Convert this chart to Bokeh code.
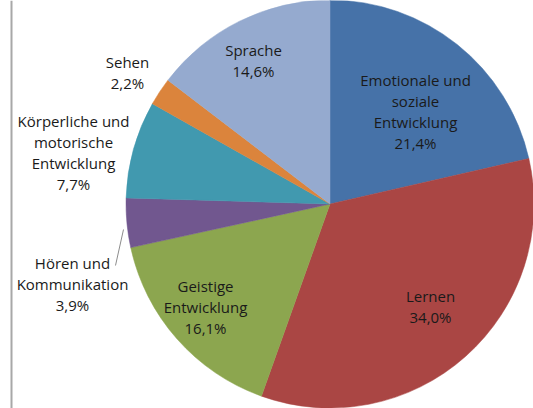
import numpy as np
from bokeh.plotting import figure
from bokeh.models import Range1d, ColumnDataSource, Span
from bokeh.core.properties import value
from bokeh.embed import file_html
from bokeh.resources import INLINE

# ---- data ----
categories = ["Emotionale und\nsoziale\nEntwicklung", "Lernen", "Geistige\nEntwicklung",
              "Hören und\nKommunikation", "Körperliche und\nmotorische\nEntwicklung",
              "Sehen", "Sprache"]
shares = [21.4, 34.0, 16.1, 3.9, 7.7, 2.2, 14.6]
pct_labels = ["21,4%", "34,0%", "16,1%", "3,9%", "7,7%", "2,2%", "14,6%"]
colors = ["#4672A8", "#AA4644", "#8CA64F", "#71578F", "#4199AF", "#DB843C", "#95AACF"]

# ---- layout (page pixel coordinates) ----
W, H = 533, 408
cx, cy_page, R = 329.5, 203.5, 204
label_x = [415, 430, 205, 72, 73, 127, 253]
label_y_page = [111, 306, 306, 283, 152, 72, 60]

def py(v):
    return H - v

vals = np.array(shares, dtype=float)
frac = vals / vals.sum()
cum = np.concatenate([[0.0], np.cumsum(frac)])
start = np.pi / 2 - 2 * np.pi * cum[:-1]
end = np.pi / 2 - 2 * np.pi * cum[1:]

src = ColumnDataSource(dict(start=start, end=end, color=colors))

p = figure(width=W, height=H, output_backend="svg", toolbar_location=None,
           x_range=Range1d(0, W), y_range=Range1d(0, H),
           x_axis_location=None, y_axis_location=None, min_border=0,
           background_fill_color="white", border_fill_color="white")
p.grid.visible = False
p.outline_line_color = None

p.wedge(x=cx, y=py(cy_page), radius=R, start_angle="start", end_angle="end",
        direction="clock", fill_color="color", line_color="color", line_width=0.5,
        source=src)

# leader line for the small "Hören" slice
p.segment(x0=[123], y0=[py(229)], x1=[115], y1=[py(265)], line_color="#8C8C8C", line_width=1)

# left frame line of the original screenshot
p.add_layout(Span(location=11, dimension="height", line_color="#A8A8A8", line_width=2))

texts = [c + "\n" + pc for c, pc in zip(categories, pct_labels)]
lsrc = ColumnDataSource(dict(x=label_x, y=[py(v) for v in label_y_page], t=texts))
p.text(x="x", y="y", text="t", source=lsrc, text_align="center", text_baseline="middle",
       text_font=value("Open Sans"), text_font_size="15px", text_color="#1A1A1A",
       text_line_height=1.05)

open("out.html", "w").write(file_html(p, INLINE))
